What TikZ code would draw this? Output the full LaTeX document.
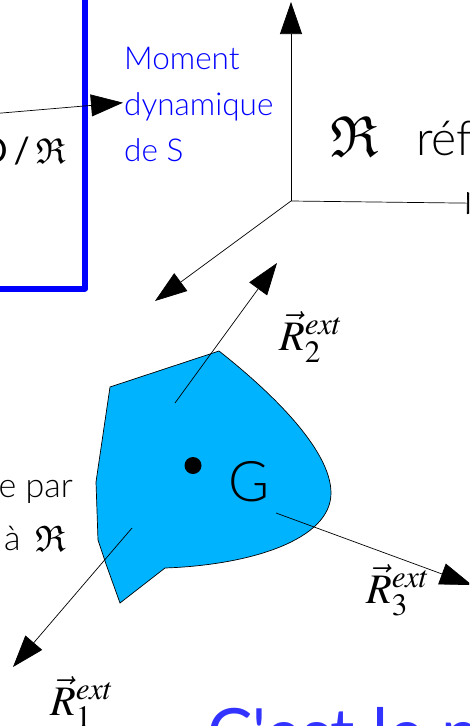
\documentclass[tikz,border=0pt]{standalone}
\usepackage{mathptmx}
\usepackage{amssymb}
\usepackage[no-math]{fontspec}
\setmainfont{Lato Light}
\newfontfamily\slogfont{Lato}
\usetikzlibrary{arrows.meta}

\definecolor{bodyblue}{RGB}{0,179,255}
\definecolor{slogan}{RGB}{51,51,255}
\newcommand{\frakR}[1]{\scalebox{#1}{\fontsize{10}{12}\selectfont$\mathfrak{R}$}}
\newcommand{\extforce}[1]{\scalebox{4.2}{\fontsize{10}{12}\selectfont$\vec{R}^{ext}_{#1}$}}

\begin{document}
\begin{tikzpicture}[
  x=1pt, y=-1pt,
  force/.style={-{Triangle[length=32pt, width=22pt]}, line width=0.7pt, draw=black},
  frame/.style={draw=blue, line width=6pt, line join=round},
  solid body/.style={draw=black, fill=bodyblue, line width=0.7pt},
  flabel/.style={anchor=base west, inner sep=0pt},
  note/.style={inner sep=0pt, text=black, font=\fontsize{34}{36}\selectfont},
]

\path[use as bounding box, clip] (0,0) rectangle (469,726);

\coordinate (frameA) at (-10,288.5);
\coordinate (frameB) at (85,288.5);
\coordinate (frameC) at (85,-10);
\draw[frame] (frameA) -- (frameB) -- (frameC);

\path[solid body] (110,387) -- (219,351)
    .. controls (266,388) and (331,448) .. (331,493)
    .. controls (331,540) and (250,565) .. (165,568)
    -- (120,603) -- (106,564) -- (98,540) -- (96,482) -- cycle;

\coordinate (O) at (291,201);
\coordinate (up) at (291,2);
\coordinate (right) at (499,203.5);
\coordinate (depth) at (155,301);
\draw[force] (O) -- (up);
\draw[force] (O) -- (right);
\draw[force] (O) -- (depth);

\coordinate (momIn) at (-10,114);
\coordinate (momTip) at (123,102.7);
\node[inner sep=0pt, anchor=west] (moment) at (124,104) [align=left, text=blue, font=\fontsize{31.5}{46}\selectfont]
    {Moment \\ dynamique \\ de S};
\draw[force] (momIn) -- (momTip);

\node[flabel, anchor=base east, font=\slogfont\fontsize{36}{38}\selectfont] (dsr) at (66,163) {D\,/\hspace{6pt}\frakR{3.6}};
\node[flabel] (ref) at (330,156) {\frakR{5.8}};
\node[note, anchor=base west, font=\fontsize{48}{50}\selectfont] (reft) at (416,155) {réf};
\node[note, anchor=base east] (par) at (73,497) {e par};
\node[note, anchor=base west] (a) at (4,550) {à};
\node[flabel] (ar) at (35,551) {\frakR{3.7}};

\coordinate (f1s) at (132,528);
\coordinate (f1) at (13,667);
\coordinate (f2s) at (175,403);
\coordinate (f2) at (277,263);
\coordinate (f3s) at (276,513);
\coordinate (f3) at (472,585);
\draw[force] (f1s) -- (f1);
\draw[force] (f2s) -- (f2);
\draw[force] (f3s) -- (f3);

\node[circle, fill=black, inner sep=0pt, minimum size=17pt] (dot) at (193,465.5) {};
\node[inner sep=0pt, anchor=base, font=\fontsize{56}{58}\selectfont] (G) at (249,501) {G};

\node[flabel] (r1) at (50,715) {\extforce{1}};
\node[flabel] (r2) at (279,350) {\extforce{2}};
\node[flabel] (r3) at (366,603) {\extforce{3}};

\node[flabel, text=slogan, font=\slogfont\fontsize{68}{70}\selectfont] (slog) at (207,757) {C'est le p};

\end{tikzpicture}
\end{document}
